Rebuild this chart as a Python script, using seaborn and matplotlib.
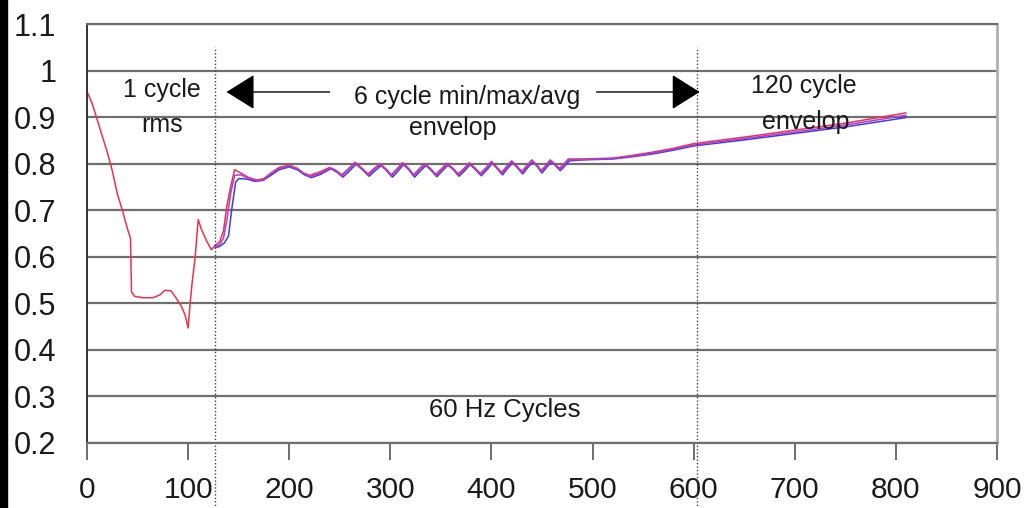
import matplotlib
matplotlib.use("Agg")

import matplotlib.pyplot as plt
import numpy as np
import pandas as pd
import seaborn as sns
from matplotlib.patches import Rectangle

# 1 cycle rms part (red only, before the 6 cycle window starts)
rms_x = [0, 5, 10, 15, 20, 25, 30, 35, 40, 43, 44, 47, 55, 65, 72, 77, 83, 88, 93, 97,
         100, 102, 104, 107, 110, 113, 118, 123]
rms_y = [0.955, 0.93, 0.895, 0.86, 0.825, 0.785, 0.735, 0.70, 0.66, 0.64, 0.525, 0.515,
         0.512, 0.512, 0.518, 0.528, 0.527, 0.512, 0.495, 0.475, 0.447, 0.50, 0.545, 0.60,
         0.68, 0.66, 0.635, 0.615]

# 6 cycle / 120 cycle envelope
env_x = [127, 131, 135, 138, 142, 146, 152, 160, 168, 175, 182, 190, 200, 208, 214, 220,
         230, 240, 246, 252, 258, 265, 272, 278, 284, 290, 296, 301, 307, 312, 318, 323,
         329, 334, 340, 345, 351, 356, 362, 367, 373, 378, 384, 389, 395, 400, 405, 410,
         415, 420, 425, 430, 435, 440, 445, 449, 454, 458, 463, 467, 472, 476, 490, 520,
         540, 560, 580, 600, 650, 700, 750, 810]
max_y = [0.625, 0.632, 0.655, 0.705, 0.75, 0.787, 0.78, 0.77, 0.765, 0.768, 0.78, 0.792,
         0.797, 0.79, 0.78, 0.775, 0.782, 0.792, 0.786, 0.776, 0.788, 0.803, 0.79, 0.778,
         0.79, 0.80, 0.788, 0.776, 0.79, 0.802, 0.79, 0.776, 0.79, 0.80, 0.789, 0.777,
         0.79, 0.801, 0.79, 0.778, 0.79, 0.802, 0.79, 0.779, 0.792, 0.805, 0.793, 0.781,
         0.794, 0.806, 0.795, 0.783, 0.796, 0.808, 0.797, 0.785, 0.797, 0.808, 0.799, 0.79,
         0.80, 0.81, 0.81, 0.812, 0.818, 0.825, 0.833, 0.843, 0.857, 0.872, 0.887, 0.909]
avg_y = [0.622, 0.626, 0.64, 0.675, 0.735, 0.775, 0.776, 0.768, 0.763, 0.766, 0.778, 0.79,
         0.795, 0.789, 0.779, 0.772, 0.779, 0.79, 0.785, 0.773, 0.786, 0.801, 0.789, 0.775,
         0.788, 0.798, 0.786, 0.773, 0.788, 0.800, 0.788, 0.773, 0.788, 0.798, 0.787, 0.774,
         0.788, 0.799, 0.788, 0.775, 0.788, 0.800, 0.788, 0.776, 0.790, 0.803, 0.791, 0.778,
         0.792, 0.804, 0.793, 0.780, 0.794, 0.806, 0.795, 0.782, 0.795, 0.806, 0.797, 0.787,
         0.798, 0.808, 0.809, 0.811, 0.816, 0.823, 0.831, 0.840, 0.854, 0.868, 0.883, 0.904]
min_x = [127, 131, 136, 140, 143, 147, 150, 158, 166, 174, 182, 190, 200, 208, 215, 222,
         231, 241, 247, 253, 259, 266, 273, 279, 285, 291, 297, 302, 308, 313, 319, 324,
         330, 335, 341, 346, 352, 357, 363, 368, 374, 379, 385, 390, 396, 401, 406, 411,
         416, 421, 426, 431, 436, 441, 446, 450, 455, 459, 464, 468, 473, 477, 490, 520,
         540, 560, 580, 600, 650, 700, 750, 810]
min_y = [0.620, 0.622, 0.630, 0.645, 0.700, 0.760, 0.768, 0.767, 0.762, 0.764, 0.775, 0.787,
         0.793, 0.787, 0.776, 0.770, 0.777, 0.789, 0.782, 0.771, 0.783, 0.799, 0.786, 0.773,
         0.785, 0.796, 0.784, 0.771, 0.785, 0.798, 0.786, 0.771, 0.785, 0.796, 0.785, 0.772,
         0.786, 0.797, 0.786, 0.773, 0.786, 0.798, 0.786, 0.774, 0.788, 0.801, 0.789, 0.776,
         0.790, 0.802, 0.791, 0.778, 0.792, 0.804, 0.793, 0.780, 0.793, 0.804, 0.795, 0.785,
         0.796, 0.806, 0.808, 0.810, 0.815, 0.821, 0.829, 0.838, 0.851, 0.865, 0.879, 0.899]

x_ticks = [0, 100, 200, 300, 400, 500, 600, 700, 800, 900]
y_ticks = [0.2, 0.3, 0.4, 0.5, 0.6, 0.7, 0.8, 0.9, 1.0, 1.1]
y_labels = ["0.2", "0.3", "0.4", "0.5", "0.6", "0.7", "0.8", "0.9", "1", "1.1"]
window_marks = [127, 603]

df = pd.concat([
    pd.DataFrame({"cycle": rms_x + env_x, "value": rms_y + max_y, "series": "max"}),
    pd.DataFrame({"cycle": min_x, "value": min_y, "series": "min"}),
    pd.DataFrame({"cycle": env_x, "value": avg_y, "series": "avg"}),
])
colors = {"max": "#f2304c", "min": "#3a3af0", "avg": "#b03cd0"}

sns.set_style("white")
plt.rcParams['font.family'] = ['Liberation Sans', 'DejaVu Sans']

fig = plt.figure(figsize=(10.29, 5.08), dpi=100)
ax = fig.add_axes([87 / 1029, 65 / 508, 910 / 1029, 419 / 508])

sns.lineplot(data=df, x="cycle", y="value", hue="series", palette=colors,
             estimator=None, sort=False, legend=False, lw=1.1, ax=ax)

ax.set_xlim(0, 900)
ax.set_ylim(0.2, 1.1)
ax.set_xticks(x_ticks)
ax.set_yticks(y_ticks)
ax.set_yticklabels(y_labels)
ax.set_xlabel("")
ax.set_ylabel("")

grid_c = "#6e6e6e"
ax.yaxis.grid(True, color=grid_c, lw=1.6)
ax.set_axisbelow(True)
ax.tick_params(axis="y", length=12, width=1.6, color=grid_c, pad=10,
               labelsize=22, labelcolor="#1a1a1a")
ax.tick_params(axis="x", length=12, width=1.4, color=grid_c, pad=12,
               labelsize=21.5, labelcolor="#1a1a1a", bottom=True)
ax.spines["left"].set_color("#333333")
ax.spines["left"].set_linewidth(1.4)
ax.spines["right"].set_color("#b0b0b0")
ax.spines["right"].set_linewidth(2)
ax.spines["top"].set_color(grid_c)
ax.spines["top"].set_linewidth(1.6)
ax.spines["bottom"].set_color(grid_c)
ax.spines["bottom"].set_linewidth(1.6)

for xm in window_marks:
    ax.axvline(xm, ymin=-0.16, ymax=0.945, clip_on=False, color="#404040",
               ls=(0, (1, 1.5)), lw=1)

# arrows
arr = dict(arrowstyle="-|>,head_length=0.4,head_width=0.25", mutation_scale=45,
           color="black", lw=1, shrinkA=0, shrinkB=0)
ax.annotate("", xy=(138, 0.954), xytext=(240, 0.954), arrowprops=arr)
ax.annotate("", xy=(606, 0.954), xytext=(504, 0.954), arrowprops=arr)

tkw = dict(ha="center", va="center", fontsize=18, color="#1a1a1a")
ax.text(74, 0.958, "1 cycle", **tkw)
ax.text(74, 0.883, "rms", **tkw)
ax.text(376, 0.943, "6 cycle min/max/avg", **tkw)
ax.text(362, 0.877, "envelop", **tkw)
ax.text(709, 0.967, "120 cycle", **tkw)
ax.text(711, 0.890, "envelop", **tkw)
ax.text(413, 0.270, "60 Hz Cycles", ha="center", va="center", fontsize=18.5,
        color="#1a1a1a")

fig.patches.append(Rectangle((0, 0), 7 / 1029, 1, transform=fig.transFigure,
                             color="black", zorder=10))

fig.savefig("out.png", dpi=100)
